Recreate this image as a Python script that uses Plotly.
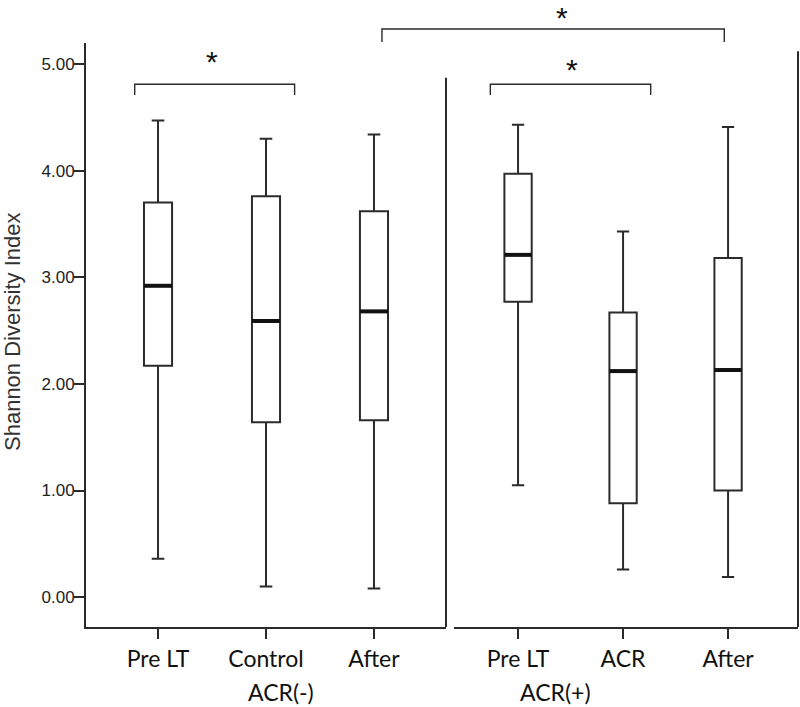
import plotly.graph_objects as go

# ---------------- data ----------------
categories_left = ["Pre LT", "Control", "After"]
categories_right = ["Pre LT", "ACR", "After"]
group_left = "ACR(-)"
group_right = "ACR(+)"

left_low = [0.36, 0.10, 0.08]
left_q1 = [2.17, 1.64, 1.66]
left_med = [2.92, 2.59, 2.68]
left_q3 = [3.70, 3.76, 3.62]
left_high = [4.47, 4.30, 4.34]

right_low = [1.05, 0.26, 0.19]
right_q1 = [2.77, 0.88, 1.00]
right_med = [3.21, 2.12, 2.13]
right_q3 = [3.97, 2.67, 3.18]
right_high = [4.43, 3.43, 4.41]

y_tick_vals = [0, 1, 2, 3, 4, 5]
y_title = "Shannon Diversity Index"
star = "*"

# ---------------- layout geometry ----------------
W, H = 800, 707
ML, MR, MT, MB = 86, 2, 0, 80
PW, PH = W - ML - MR, H - MT - MB
Y_RANGE = [-0.28, 5.197]
Y_DOM = [0, 584 / PH]
X1_DOM = [0, 360 / PW]
X2_DOM = [368 / PW, 1]
X1_RANGE = [-0.667, 2.667]
X2_RANGE = [-0.61, 2.666]
BOX_W = 0.26
LINE_C = "#2b2b2b"
TXT_FONT = "Lato, 'Open Sans', sans-serif"
NUM_FONT = "'Liberation Sans', Arial, sans-serif"


def paper_x(dom, rng, v):
    return dom[0] + (v - rng[0]) / (rng[1] - rng[0]) * (dom[1] - dom[0])


def paper_y(v):
    return Y_DOM[0] + (v - Y_RANGE[0]) / (Y_RANGE[1] - Y_RANGE[0]) * (Y_DOM[1] - Y_DOM[0])


fig = go.Figure()

panels = [
    ("x", categories_left, left_low, left_q1, left_med, left_q3, left_high),
    ("x2", categories_right, right_low, right_q1, right_med, right_q3, right_high),
]
for xa, cats, lo, q1, med, q3, hi in panels:
    pos = list(range(len(cats)))
    fig.add_trace(go.Box(
        x=pos, q1=q1, median=med, q3=q3, lowerfence=lo, upperfence=hi,
        width=BOX_W, whiskerwidth=0.45, fillcolor="white",
        line=dict(color=LINE_C, width=2), boxpoints=False,
        showlegend=False, hoverinfo="skip", xaxis=xa, yaxis="y",
    ))
    mx, my = [], []
    for p, m in zip(pos, med):
        mx += [p - BOX_W / 2, p + BOX_W / 2, None]
        my += [m, m, None]
    fig.add_trace(go.Scatter(
        x=mx, y=my, mode="lines", line=dict(color="#111111", width=4),
        showlegend=False, hoverinfo="skip", xaxis=xa, yaxis="y",
    ))

axis_common = dict(
    showline=True, linecolor=LINE_C, linewidth=2,
    ticks="outside", ticklen=10, tickwidth=2, tickcolor=LINE_C,
    showgrid=False, zeroline=False, fixedrange=True,
    tickfont=dict(family=TXT_FONT, size=23, color="#111111"),
)

fig.update_layout(
    width=W, height=H,
    margin=dict(l=ML, r=MR, t=MT, b=MB, pad=0),
    paper_bgcolor="white", plot_bgcolor="white",
    showlegend=False,
    xaxis=dict(domain=X1_DOM, range=X1_RANGE, tickvals=[0, 1, 2],
               ticktext=categories_left, anchor="y", **axis_common),
    xaxis2=dict(domain=X2_DOM, range=X2_RANGE, tickvals=[0, 1, 2],
                ticktext=categories_right, anchor="y", **axis_common),
    yaxis=dict(domain=Y_DOM, range=Y_RANGE, tickvals=y_tick_vals,
               tickformat=".2f", showline=True, linecolor=LINE_C, linewidth=2,
               ticks="outside", ticklen=10, tickwidth=2, tickcolor=LINE_C,
               ticklabelstandoff=-4,
               showgrid=False, zeroline=False, fixedrange=True,
               tickfont=dict(family=NUM_FONT, size=17, color="#222222")),
)

# panel frame lines
fig.add_shape(type="line", xref="paper", yref="paper",
              x0=X1_DOM[1], x1=X1_DOM[1], y0=0, y1=paper_y(4.87),
              line=dict(color=LINE_C, width=2))
fig.add_shape(type="line", xref="paper", yref="paper",
              x0=1, x1=1, y0=0, y1=paper_y(5.12),
              line=dict(color=LINE_C, width=2))

# significance brackets
BR_TOP, BR_TICK = 4.81, 4.71
fig.add_shape(type="path", xref="x", yref="y",
              path=f"M -0.216,{BR_TICK} L -0.216,{BR_TOP} L 1.265,{BR_TOP} L 1.265,{BR_TICK}",
              line=dict(color=LINE_C, width=1.4))
fig.add_shape(type="path", xref="x2", yref="y",
              path=f"M -0.264,{BR_TICK} L -0.264,{BR_TOP} L 1.263,{BR_TOP} L 1.263,{BR_TICK}",
              line=dict(color=LINE_C, width=1.4))
bx0 = paper_x(X1_DOM, X1_RANGE, 2.074)
bx1 = paper_x(X2_DOM, X2_RANGE, 1.964)
by_top, by_tick = paper_y(5.328), paper_y(5.206)
fig.add_shape(type="path", xref="paper", yref="paper",
              path=f"M {bx0},{by_tick} L {bx0},{by_top} L {bx1},{by_top} L {bx1},{by_tick}",
              line=dict(color=LINE_C, width=1.4))

star_font = dict(family=NUM_FONT, size=30, color="#111111")
fig.add_annotation(text=star, xref="x", yref="y", x=0.50, y=5.02,
                   showarrow=False, font=star_font, xanchor="center", yanchor="middle")
fig.add_annotation(text=star, xref="x2", yref="y", x=0.514, y=4.95,
                   showarrow=False, font=star_font, xanchor="center", yanchor="middle")
fig.add_annotation(text=star, xref="paper", yref="paper",
                   x=paper_x(X2_DOM, X2_RANGE, 0.416), y=1,
                   showarrow=False, font=star_font, xanchor="center", yanchor="top",
                   borderpad=0)

# group labels
grp_font = dict(family=TXT_FONT, size=23, color="#111111")
fig.add_annotation(text=group_left, xref="x", yref="paper", x=1.139, y=(PH - 691.7) / PH,
                   showarrow=False, font=grp_font, xanchor="center", yanchor="middle")
fig.add_annotation(text=group_right, xref="x2", yref="paper", x=0.357, y=(PH - 691.7) / PH,
                   showarrow=False, font=grp_font, xanchor="center", yanchor="middle")

# y-axis title
fig.add_annotation(text=y_title, xref="paper", yref="paper",
                   x=(13 - ML) / PW, y=(PH - 332) / PH, textangle=-90,
                   showarrow=False, xanchor="center", yanchor="middle",
                   font=dict(family=NUM_FONT, size=22, color="#333333"))

fig.write_html(
    "out.html",
    config={"displayModeBar": False},
    post_script="document.body.style.margin='0';document.body.style.overflow='hidden';",
)
